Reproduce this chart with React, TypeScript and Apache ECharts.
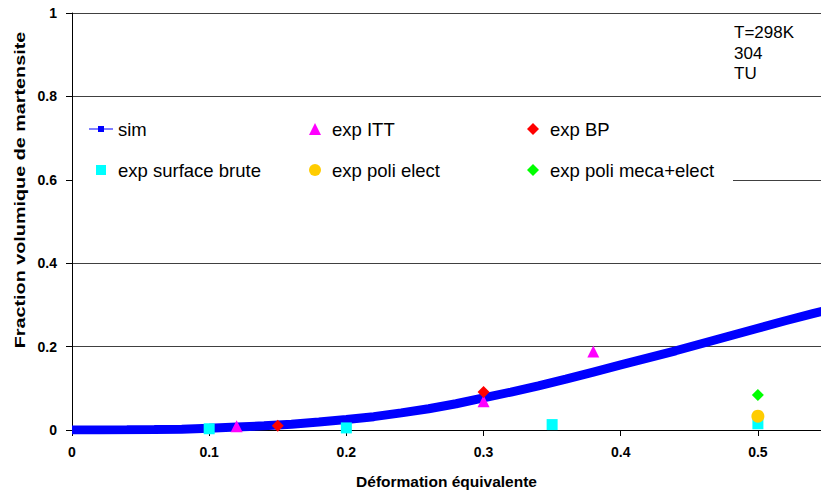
import React, { useEffect, useRef } from "react";
import * as echarts from "echarts";

const FONT = "Arial, 'Liberation Sans', sans-serif";

// simulation curve
const simX = [0, 0.02, 0.04, 0.06, 0.08, 0.1, 0.12, 0.14, 0.16, 0.18, 0.2, 0.22, 0.24, 0.26, 0.28, 0.3, 0.32, 0.34, 0.36, 0.38, 0.4, 0.42, 0.44, 0.46, 0.48, 0.5, 0.52, 0.54, 0.56];
const simY = [0, 0.0002, 0.0005, 0.001, 0.002, 0.004, 0.007, 0.01, 0.014, 0.019, 0.025, 0.032, 0.041, 0.051, 0.063, 0.077, 0.091, 0.106, 0.122, 0.139, 0.156, 0.173, 0.19, 0.208, 0.226, 0.244, 0.262, 0.279, 0.296];

// experiments
const ittX = [0.12, 0.3, 0.38];
const ittY = [0.009, 0.069, 0.188];
const bpX = [0.15, 0.3];
const bpY = [0.01, 0.091];
const surfaceBruteX = [0.1, 0.2, 0.35, 0.5];
const surfaceBruteY = [0.003, 0.005, 0.013, 0.015];
const poliElectX = [0.5];
const poliElectY = [0.033];
const poliMecaX = [0.5];
const poliMecaY = [0.084];

const noteLines = ["T=298K", "304", "TU"];
const xTitle = "Déformation équivalente";
const yTitle = "Fraction volumique de martensite";

const pairs = (xs: number[], ys: number[]) => xs.map((x, i) => [x, ys[i]]);

const simIcon = "path://M0,2.5H24V3.5H0Z M9,0H15V6H9Z";
const squareIcon = "path://M0,0H10V10H0Z";
const triIcon = "path://M5,0L10,10L0,10Z";
const circleIcon = "path://M0,5A5,5,0,1,1,10,5A5,5,0,1,1,0,5Z";
const diamondIcon = "path://M5,0L10,5L5,10L0,5Z";

export default function App() {
  const ref = useRef<HTMLDivElement>(null);
  useEffect(() => {
    if (!ref.current) return;
    const chart = echarts.init(ref.current, null, { renderer: "svg" });
    const legendBase = {
      orient: "vertical",
      padding: 0,
      itemWidth: 24,
      itemHeight: 12,
      itemGap: 19,
      selectedMode: false,
      z: 300,
      itemStyle: { borderWidth: 0, opacity: 1 },
      textStyle: { fontSize: 18.5, fontFamily: FONT, color: "#000", lineHeight: 22 },
    };
    const scatterBase = { type: "scatter", z: 3 };
    chart.setOption({
      animation: false,
      backgroundColor: "#fff",
      grid: { left: 72, right: 0, top: 13, bottom: 62, containLabel: false, outerBoundsMode: "none" },
      xAxis: {
        type: "value",
        min: 0,
        max: 0.546,
        interval: 0.1,
        axisLine: { show: true, onZero: false, lineStyle: { color: "#000", width: 1 } },
        axisTick: { show: true, inside: false, length: 6, lineStyle: { color: "#000" } },
        splitLine: { show: false },
        axisLabel: { showMaxLabel: false, margin: 15, fontWeight: "bold", fontSize: 14, color: "#000", fontFamily: FONT },
        name: xTitle,
        nameLocation: "middle",
        nameGap: 43,
        nameTextStyle: { fontWeight: "bold", fontSize: 15.5, color: "#000", fontFamily: FONT },
      },
      yAxis: {
        type: "value",
        min: 0,
        max: 1,
        interval: 0.2,
        axisLine: { show: true, lineStyle: { color: "#000", width: 1 } },
        axisTick: { show: true, inside: false, length: 6, lineStyle: { color: "#000" } },
        splitLine: { show: true, lineStyle: { color: "#404040", width: 1 } },
        axisLabel: { margin: 15, fontWeight: "bold", fontSize: 14, color: "#000", fontFamily: FONT },
      },
      legend: [
        { ...legendBase, left: 89, top: 118, itemHeight: 10, data: [{ name: "sim", icon: simIcon }, { name: "exp surface brute", icon: squareIcon }] },
        { ...legendBase, left: 309, top: 118, data: [{ name: "exp ITT", icon: triIcon }, { name: "exp poli elect", icon: circleIcon }] },
        { ...legendBase, left: 527, top: 118, data: [{ name: "exp BP", icon: diamondIcon }, { name: "exp poli meca+elect", icon: diamondIcon }] },
      ],
      graphic: [
        { type: "rect", silent: true, z: 50, shape: { x: 73, y: 100, width: 660, height: 100 }, style: { fill: "#fff" } },
        {
          type: "text",
          z: 60,
          x: 734,
          y: 22.5,
          style: { text: noteLines.join("\n"), fontSize: 17, lineHeight: 20.5, fill: "#000", fontFamily: FONT, verticalAlign: "top" },
        },
        {
          type: "text",
          z: 60,
          x: 20,
          y: 190,
          rotation: Math.PI / 2,
          scaleX: 1.32,
          style: { text: yTitle, x: 0, y: 0, fontSize: 15, fontWeight: "bold", fill: "#000", fontFamily: FONT, align: "center", verticalAlign: "middle" },
        },
      ],
      series: [
        {
          name: "sim",
          type: "line",
          z: 2,
          data: pairs(simX, simY),
          color: "#0000FF",
          symbol: "rect",
          symbolSize: 8,
          showSymbol: false,
          lineStyle: { width: 9, color: "#0000FF" },
          smooth: false,
        },
        { ...scatterBase, name: "exp ITT", data: pairs(ittX, ittY), symbol: "triangle", symbolSize: 12, itemStyle: { color: "#FF00FF", opacity: 1 } },
        { ...scatterBase, name: "exp BP", data: pairs(bpX, bpY), symbol: "diamond", symbolSize: 12, itemStyle: { color: "#FF0000", opacity: 1 } },
        { ...scatterBase, name: "exp surface brute", data: pairs(surfaceBruteX, surfaceBruteY), symbol: "rect", symbolSize: 11, itemStyle: { color: "#00FFFF", opacity: 1 } },
        { ...scatterBase, name: "exp poli elect", data: pairs(poliElectX, poliElectY), symbol: "circle", symbolSize: 13, itemStyle: { color: "#FFCC00", opacity: 1 } },
        { ...scatterBase, name: "exp poli meca+elect", data: pairs(poliMecaX, poliMecaY), symbol: "diamond", symbolSize: 12, itemStyle: { color: "#00FF00", opacity: 1 } },
      ],
    });
    return () => chart.dispose();
  }, []);
  return <div ref={ref} style={{ position: "fixed", left: 0, top: 0, width: 821, height: 492 }} />;
}
